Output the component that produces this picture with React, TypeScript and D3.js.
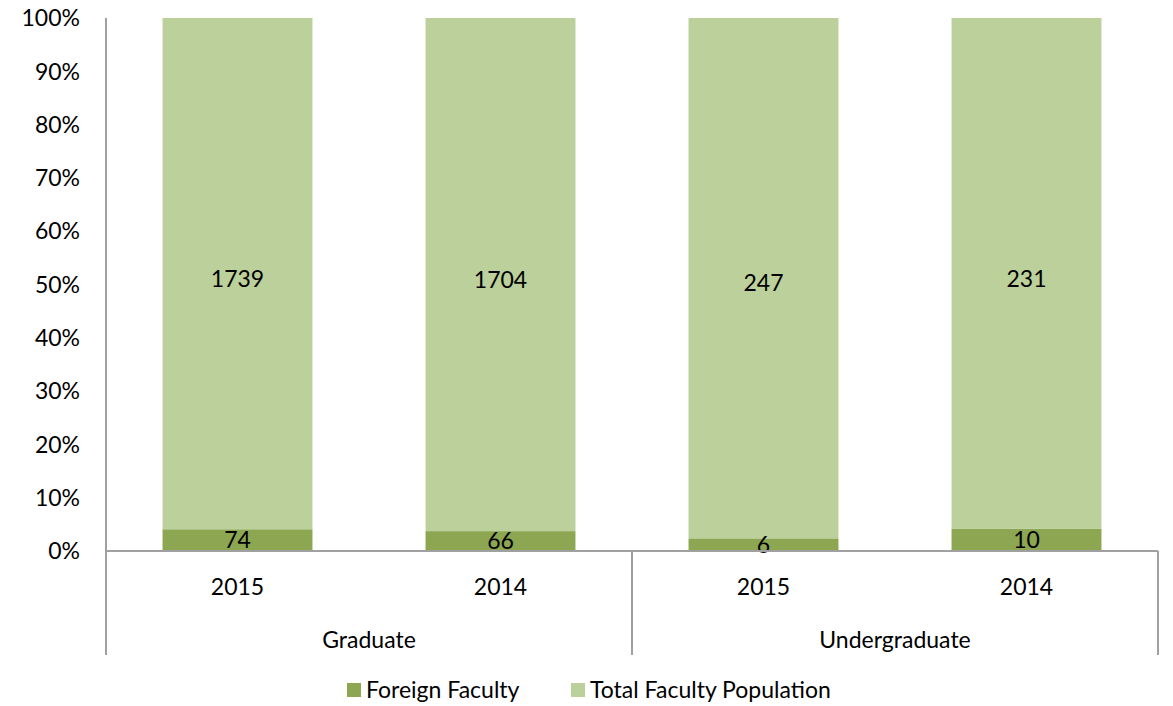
import React, { useEffect, useRef } from 'react';
import * as d3 from 'd3';

const groups = ['Graduate', 'Undergraduate'];
const years = ['2015', '2014'];
const foreignFaculty = [74, 66, 6, 10];
const totalFaculty = [1739, 1704, 247, 231];
const seriesNames = ['Foreign Faculty', 'Total Faculty Population'];
const seriesColors = ['#8CA652', '#BBD09A'];
const yTicks = [0, 0.1, 0.2, 0.3, 0.4, 0.5, 0.6, 0.7, 0.8, 0.9, 1];

const W = 1173;
const H = 706;
const FONT = 'Lato, "Open Sans", sans-serif';
const FS = '23px';

const App = () => {
    const ref = useRef<SVGSVGElement>(null);

    useEffect(() => {
        if (!ref.current) return;
        const svg = d3.select(ref.current);
        svg.selectAll('*').remove();

        const left = 106, right = 1158, top = 18, bottom = 551;

        // one row per bar: group + year
        const rows = groups.flatMap((g, gi) => years.map((y, yi) => {
            const i = gi * years.length + yi;
            const sum = foreignFaculty[i] + totalFaculty[i];
            return { key: `${g}-${y}`, group: g, year: y, foreign: foreignFaculty[i] / sum, total: totalFaculty[i] / sum, fv: foreignFaculty[i], tv: totalFaculty[i] };
        }));

        const x = d3.scaleBand().domain(rows.map(r => r.key)).range([left, right]).paddingInner(0.43).paddingOuter(0.215);
        const step = (right - left) / rows.length;
        const y = d3.scaleLinear().domain([0, 1]).range([bottom, top]);

        const stack = d3.stack<any>().keys(['foreign', 'total']);
        const stacked = stack(rows);

        const layers = svg.append('g').selectAll('g').data(stacked).join('g')
            .attr('fill', (d, i) => seriesColors[i]);
        layers.selectAll('rect').data(d => d).join('rect')
            .attr('x', d => x(d.data.key)!)
            .attr('width', x.bandwidth())
            .attr('y', d => y(d[1]))
            .attr('height', d => y(d[0]) - y(d[1]));

        // data labels
        stacked.forEach((layer, li) => {
            svg.append('g').selectAll('text').data(layer).join('text')
                .attr('x', d => x(d.data.key)! + x.bandwidth() / 2)
                .attr('y', d => (y(d[0]) + y(d[1])) / 2 + (li === 1 ? 5 : 0))
                .attr('dy', '0.36em')
                .attr('text-anchor', 'middle')
                .style('font-family', FONT)
                .style('font-size', FS)
                .attr('fill', '#000')
                .text(d => li === 0 ? d.data.fv : d.data.tv);
        });

        // y axis
        const axisColor = '#A0A0A0';
        svg.append('line').attr('x1', left).attr('x2', left).attr('y1', top).attr('y2', bottom)
            .attr('stroke', axisColor).attr('stroke-width', 2);
        svg.append('g').selectAll('text').data(yTicks).join('text')
            .attr('x', 80)
            .attr('y', d => y(d))
            .attr('dy', '0.36em')
            .attr('text-anchor', 'end')
            .style('font-family', FONT)
            .style('font-size', FS)
            .text(d => d3.format('.0%')(d));

        // x axis baseline and group dividers
        svg.append('line').attr('x1', left).attr('x2', right).attr('y1', bottom).attr('y2', bottom)
            .attr('stroke', axisColor).attr('stroke-width', 2);
        const dividers = d3.range(groups.length + 1).map(i => left + i * step * years.length);
        svg.append('g').selectAll('line').data(dividers).join('line')
            .attr('x1', d => d).attr('x2', d => d)
            .attr('y1', bottom).attr('y2', 655)
            .attr('stroke', axisColor).attr('stroke-width', 2);

        svg.append('g').selectAll('text').data(rows).join('text')
            .attr('x', d => x(d.key)! + x.bandwidth() / 2)
            .attr('y', 587)
            .attr('dy', '0.36em')
            .attr('text-anchor', 'middle')
            .style('font-family', FONT)
            .style('font-size', FS)
            .text(d => d.year);

        svg.append('g').selectAll('text').data(groups).join('text')
            .attr('x', (d, i) => (dividers[i] + dividers[i + 1]) / 2)
            .attr('y', 640)
            .attr('dy', '0.36em')
            .attr('text-anchor', 'middle')
            .style('font-family', FONT)
            .style('font-size', FS)
            .text(d => d);

        // legend
        const legendX = [347, 571];
        const legend = svg.append('g').selectAll('g').data(seriesNames).join('g')
            .attr('transform', (d, i) => `translate(${legendX[i]}, 690)`);
        legend.append('rect').attr('x', 0).attr('y', -7).attr('width', 14).attr('height', 14)
            .attr('fill', (d, i) => seriesColors[i]);
        legend.append('text').attr('x', 19).attr('dy', '0.36em')
            .style('font-family', FONT)
            .style('font-size', FS)
            .text(d => d);
    }, []);

    return (
        <svg ref={ref} width={W} height={H} style={{ position: 'absolute', left: 0, top: 0, background: '#fff' }} />
    );
};

export default App;
